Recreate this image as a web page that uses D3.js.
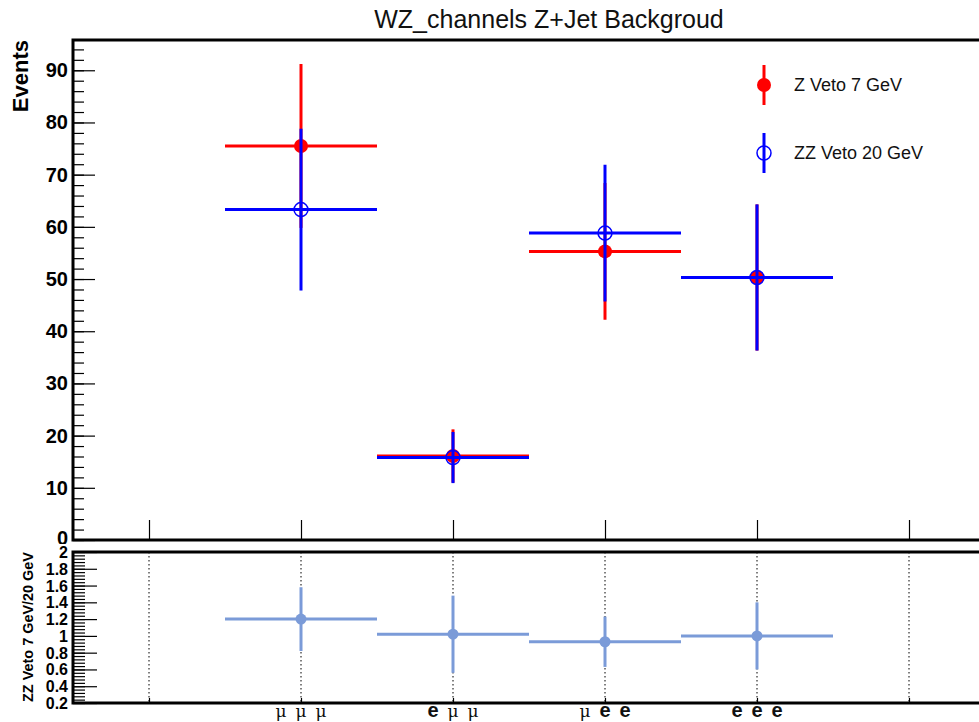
<!DOCTYPE html>
<html>
<head>
<meta charset="utf-8">
<script src="https://cdn.jsdelivr.net/npm/d3@7"></script>
<style>
  body { margin: 0; background: #fff; }
  svg { display: block; font-family: "Liberation Sans", Arial, sans-serif; }
</style>
</head>
<body>
<div id="chart"></div>
<script>
// channels on the x axis (bin centres 1..4)
const channels = ["μ μ μ", "e μ μ", "μ e e", "e e e"];
const binCenters = [1, 2, 3, 4];

// Z Veto 7 GeV
const zVeto7 = [75.5, 16.1, 55.3, 50.3];
const zVeto7Err = [15.7, 5.1, 13.1, 14.0];

// ZZ Veto 20 GeV
const zzVeto20 = [63.3, 15.8, 58.8, 50.3];
const zzVeto20Err = [15.5, 4.9, 13.1, 14.0];

// ratio panel
const ratio = [1.20, 1.02, 0.93, 1.00];
const ratioErr = [0.38, 0.46, 0.30, 0.40];

const yTicksTop = [0, 10, 20, 30, 40, 50, 60, 70, 80, 90];
const yTicksRatio = [0.2, 0.4, 0.6, 0.8, 1, 1.2, 1.4, 1.6, 1.8, 2];
const xTicks = [0, 1, 2, 3, 4, 5];

const width = 979;
const height = 722;

const left = 73;
const right = 985;   // frame runs off the right edge
const topY = 40, topBottom = 540;
const lowTop = 552, lowBottom = 703;

const svg = d3.select("#chart")
     .append("svg")
          .attr("width", width)
          .attr("height", height);

const x = d3.scaleLinear().domain([-0.5, 5.5]).range([left, right]);
const y = d3.scaleLinear().domain([0, 95.8]).range([topBottom, topY]);
const yr = d3.scaleLinear().domain([0.2, 2]).range([lowBottom, lowTop]);

// title
svg.append("text")
     .attr("x", 549)
     .attr("y", 28)
     .attr("text-anchor", "middle")
     .style("font-size", "25px")
     .attr("fill", "#111")
     .text("WZ_channels Z+Jet Backgroud");

// ---------- top panel ----------
let mainPad = svg.append("g");

// y axis with major + minor ticks
mainPad.append("g")
     .attr("transform", `translate(${left},0)`)
     .call(d3.axisRight(y).tickValues(d3.range(0, 95, 2)).tickSize(11).tickFormat(""))
     .call(g => g.select(".domain").remove());
mainPad.append("g")
     .attr("transform", `translate(${left},0)`)
     .call(d3.axisRight(y).tickValues(yTicksTop).tickSize(22).tickFormat(""))
     .call(g => g.select(".domain").remove());
mainPad.append("g")
     .selectAll("text")
     .data(yTicksTop)
     .enter()
          .append("text")
               .attr("x", left - 5)
               .attr("y", d => y(d) + (d === 0 ? 5 : 7))
               .attr("text-anchor", "end")
               .style("font-size", "20px")
               .style("font-weight", "bold")
               .text(d => d);

// x ticks
mainPad.append("g")
     .attr("transform", `translate(0,${topBottom})`)
     .call(d3.axisTop(x).tickValues(xTicks).tickSize(20).tickFormat(""))
     .call(g => g.select(".domain").remove());

mainPad.selectAll(".tick line").attr("stroke", "#000").attr("stroke-width", 1.2);

// frame
mainPad.append("path")
     .attr("d", `M${right},${topY}H${left}V${topBottom}H${right}`)
     .attr("fill", "none")
     .attr("stroke", "#000")
     .attr("stroke-width", 3);

svg.append("text")
     .attr("transform", `translate(28,${topY}) rotate(-90)`)
     .attr("text-anchor", "end")
     .style("font-size", "22px")
     .style("font-weight", "bold")
     .text("Events");

function drawSeries(vals, errs, colour, filled) {
     let g = mainPad.append("g");
     binCenters.forEach((c, i) => {
          g.append("line")
               .attr("x1", x(c - 0.5)).attr("x2", x(c + 0.5))
               .attr("y1", y(vals[i])).attr("y2", y(vals[i]))
               .attr("stroke", colour).attr("stroke-width", 3);
          g.append("line")
               .attr("x1", x(c)).attr("x2", x(c))
               .attr("y1", y(vals[i] - errs[i])).attr("y2", y(vals[i] + errs[i]))
               .attr("stroke", colour).attr("stroke-width", 3);
     });
     binCenters.forEach((c, i) => {
          g.append("circle")
               .attr("cx", x(c)).attr("cy", y(vals[i]))
               .attr("r", 7)
               .attr("fill", filled ? colour : "none")
               .attr("stroke", colour)
               .attr("stroke-width", filled ? 0 : 1.5);
     });
}
drawSeries(zVeto7, zVeto7Err, "#ff0000", true);
drawSeries(zzVeto20, zzVeto20Err, "#0000ff", false);

// legend
const legendItems = [
     {label: "Z Veto 7 GeV", colour: "#ff0000", filled: true, cy: 85},
     {label: "ZZ Veto 20 GeV", colour: "#0000ff", filled: false, cy: 153}
];
let legend = svg.append("g");
legendItems.forEach(d => {
     legend.append("line")
          .attr("x1", 764).attr("x2", 764)
          .attr("y1", d.cy - 20).attr("y2", d.cy + 20)
          .attr("stroke", d.colour).attr("stroke-width", 3);
     legend.append("circle")
          .attr("cx", 764).attr("cy", d.cy).attr("r", 7)
          .attr("fill", d.filled ? d.colour : "none")
          .attr("stroke", d.colour)
          .attr("stroke-width", d.filled ? 0 : 1.5);
     legend.append("text")
          .attr("x", 794).attr("y", d.cy + 6)
          .style("font-size", "18px")
          .attr("fill", "#111")
          .text(d.label);
});

// ---------- ratio panel ----------
svg.append("clipPath").attr("id", "lowClip")
     .append("rect").attr("x", 0).attr("y", 544).attr("width", width).attr("height", height - 544);

let low = svg.append("g").attr("clip-path", "url(#lowClip)");
low.append("rect")
     .attr("x", 0).attr("y", 544).attr("width", width).attr("height", height - 544)
     .attr("fill", "#fff");

// dotted grid at channel ticks
low.append("g")
     .selectAll("line")
     .data(xTicks)
     .enter()
          .append("line")
               .attr("x1", d => x(d)).attr("x2", d => x(d))
               .attr("y1", lowTop).attr("y2", lowBottom)
               .attr("stroke", "#000")
               .attr("stroke-width", 1)
               .attr("stroke-dasharray", "1.5,2.5");

low.append("g")
     .attr("transform", `translate(0,${lowBottom})`)
     .call(d3.axisTop(x).tickValues(xTicks).tickSize(5).tickFormat(""))
     .call(g => g.select(".domain").remove());

low.append("g")
     .attr("transform", `translate(${left},0)`)
     .call(d3.axisRight(yr).tickValues(d3.range(0.2, 2.001, 0.04)).tickSize(12).tickFormat(""))
     .call(g => g.select(".domain").remove());
low.append("g")
     .attr("transform", `translate(${left},0)`)
     .call(d3.axisRight(yr).tickValues(yTicksRatio).tickSize(24).tickFormat(""))
     .call(g => g.select(".domain").remove());
low.selectAll(".tick line").attr("stroke", "#000").attr("stroke-width", 1.2);

low.append("g")
     .selectAll("text")
     .data(yTicksRatio)
     .enter()
          .append("text")
               .attr("x", left - 5)
               .attr("y", d => yr(d) + 6)
               .attr("text-anchor", "end")
               .style("font-size", "16px")
               .style("font-weight", "bold")
               .text(d => d3.format("~g")(d));

low.append("path")
     .attr("d", `M${right},${lowTop}H${left}V${lowBottom}H${right}`)
     .attr("fill", "none")
     .attr("stroke", "#000")
     .attr("stroke-width", 3);

let rg = low.append("g");
binCenters.forEach((c, i) => {
     rg.append("line")
          .attr("x1", x(c - 0.5)).attr("x2", x(c + 0.5))
          .attr("y1", yr(ratio[i])).attr("y2", yr(ratio[i]))
          .attr("stroke", "#7b9bd8").attr("stroke-width", 3);
     rg.append("line")
          .attr("x1", x(c)).attr("x2", x(c))
          .attr("y1", yr(ratio[i] - ratioErr[i])).attr("y2", yr(ratio[i] + ratioErr[i]))
          .attr("stroke", "#7b9bd8").attr("stroke-width", 3);
     rg.append("circle")
          .attr("cx", x(c)).attr("cy", yr(ratio[i])).attr("r", 5.5)
          .attr("fill", "#7b9bd8");
});

svg.append("text")
     .attr("transform", `translate(33,${lowTop}) rotate(-90)`)
     .attr("text-anchor", "end")
     .attr("textLength", 150)
     .attr("lengthAdjust", "spacingAndGlyphs")
     .style("font-size", "14px")
     .style("font-weight", "bold")
     .text("ZZ Veto 7 GeV/20 GeV");

// channel labels: mu in a serif face, e bold
let xl = svg.append("g");
binCenters.forEach((c, i) => {
     let chars = channels[i].split(" ");
     chars.forEach((ch, j) => {
          xl.append("text")
               .attr("x", x(c) + (j - 1) * 20)
               .attr("y", 717)
               .attr("text-anchor", "middle")
               .style("font-family", ch === "e" ? "'Liberation Sans', Arial, sans-serif" : "'DejaVu Serif', serif")
               .style("font-weight", ch === "e" ? "bold" : "normal")
               .style("font-size", ch === "e" ? "20px" : "17px")
               .attr("fill", "#111")
               .text(ch);
     });
});
</script>
</body>
</html>
